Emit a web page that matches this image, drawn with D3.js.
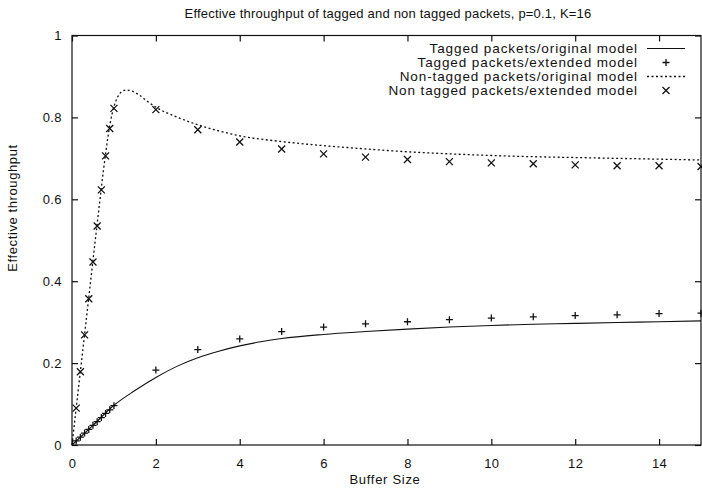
<!DOCTYPE html>
<html>
<head>
<meta charset="utf-8">
<script src="https://cdn.jsdelivr.net/npm/d3@7/dist/d3.min.js"></script>
<style>
  body { margin: 0; background: #fff; }
  svg { display: block; }
  text { font-family: "Liberation Sans", Arial, Helvetica, sans-serif; fill: #111; }
</style>
</head>
<body>
<svg id="chart" width="702" height="489"></svg>
<script>
// ---- Data ----
const titleText = "Effective throughput of tagged and non tagged packets, p=0.1, K=16";
const xLabel = "Buffer Size";
const yLabel = "Effective throughput";
const xTicks = [0, 2, 4, 6, 8, 10, 12, 14];
const yTicks = [0, 0.2, 0.4, 0.6, 0.8, 1];
const yTickLabels = ["0", "0.2", "0.4", "0.6", "0.8", "1"];
const legendLabels = [
  "Tagged packets/original model",
  "Tagged packets/extended model",
  "Non-tagged packets/original model",
  "Non tagged packets/extended model"
];

// Tagged packets / original model (solid line)
const taggedOrigX = [0, 0.5, 1, 1.5, 2, 2.5, 3, 3.5, 4, 4.5, 5, 6, 7, 8, 9, 10, 11, 12, 13, 14, 15];
const taggedOrigY = [0, 0.048, 0.097, 0.133, 0.165, 0.192, 0.213, 0.229, 0.242, 0.252, 0.26, 0.27, 0.277, 0.283, 0.288, 0.292, 0.295, 0.297, 0.299, 0.301, 0.303];

// Tagged packets / extended model (+ markers)
const taggedExtX = [0.1, 0.2, 0.3, 0.4, 0.5, 0.6, 0.7, 0.8, 0.9, 1, 2, 3, 4, 5, 6, 7, 8, 9, 10, 11, 12, 13, 14, 15];
const taggedExtY = [0.01, 0.019, 0.029, 0.038, 0.048, 0.057, 0.067, 0.077, 0.086, 0.096, 0.183, 0.233, 0.259, 0.277, 0.288, 0.296, 0.301, 0.306, 0.310, 0.313, 0.316, 0.318, 0.321, 0.322];

// Non-tagged packets / original model (dotted line)
const nonTagOrigX = [0, 0.2, 0.4, 0.6, 0.8, 0.9, 1.0, 1.1, 1.2, 1.3, 1.4, 1.6, 1.8, 2, 2.5, 3, 3.5, 4, 5, 6, 7, 8, 9, 10, 11, 12, 13, 14, 15];
const nonTagOrigY = [0, 0.18, 0.36, 0.54, 0.71, 0.78, 0.826, 0.852, 0.864, 0.867, 0.865, 0.855, 0.839, 0.825, 0.801, 0.782, 0.767, 0.755, 0.741, 0.731, 0.723, 0.716, 0.711, 0.707, 0.704, 0.702, 0.700, 0.698, 0.696];

// Non tagged packets / extended model (x markers)
const nonTagExtX = [0.1, 0.2, 0.3, 0.4, 0.5, 0.6, 0.7, 0.8, 0.9, 1, 2, 3, 4, 5, 6, 7, 8, 9, 10, 11, 12, 13, 14, 15];
const nonTagExtY = [0.09, 0.179, 0.269, 0.357, 0.447, 0.535, 0.623, 0.706, 0.773, 0.822, 0.819, 0.770, 0.740, 0.723, 0.711, 0.703, 0.697, 0.692, 0.689, 0.687, 0.684, 0.682, 0.682, 0.680];

// ---- Layout ----
const svg = d3.select("#chart");
const L = 72, R = 701, T = 35.5, B = 445;
const x = d3.scaleLinear().domain([0, 15]).range([L, R]);
const y = d3.scaleLinear().domain([0, 1]).range([B, T]);
const ink = "#111";
const fontSize = 13;

// Frame
svg.append("rect").attr("x", L).attr("y", T).attr("width", R - L).attr("height", B - T)
  .attr("fill", "none").attr("stroke", ink).attr("stroke-width", 1.2);

// Axes with inward ticks (mirrored)
const tickLen = 6;
const xAxisB = d3.axisBottom(x).tickValues(xTicks).tickSizeInner(-tickLen).tickSizeOuter(0).tickPadding(tickLen + 8).tickFormat(d3.format("d"));
const xAxisT = d3.axisTop(x).tickValues(xTicks).tickSizeInner(-tickLen).tickSizeOuter(0).tickFormat("");
const yAxisL = d3.axisLeft(y).tickValues(yTicks).tickSizeInner(-tickLen).tickSizeOuter(0).tickPadding(tickLen + 4).tickFormat((d, i) => yTickLabels[i]);
const yAxisR = d3.axisRight(y).tickValues(yTicks).tickSizeInner(-tickLen).tickSizeOuter(0).tickFormat("");

function style(g) {
  g.select(".domain").remove();
  g.selectAll("line").attr("stroke", ink).attr("stroke-width", 1.2);
  g.selectAll("text").attr("font-size", fontSize).attr("fill", ink)
    .attr("letter-spacing", 0.4)
    .style("font-family", '"Liberation Sans", Arial, sans-serif');
}
svg.append("g").attr("transform", `translate(0,${B})`).call(xAxisB).call(style);
svg.append("g").attr("transform", `translate(0,${T})`).call(xAxisT).call(style);
svg.append("g").attr("transform", `translate(${L},0)`).call(yAxisL).call(style);
svg.append("g").attr("transform", `translate(${R},0)`).call(yAxisR).call(style);

// Title and labels
svg.append("text").attr("x", 388).attr("y", 18).attr("text-anchor", "middle")
  .attr("font-size", 13).attr("letter-spacing", 0.2).text(titleText);
svg.append("text").attr("x", 385).attr("y", 484).attr("text-anchor", "middle")
  .attr("font-size", 13).attr("letter-spacing", 0.7).text(xLabel);
svg.append("text").attr("transform", "translate(17,208) rotate(-90)").attr("text-anchor", "middle")
  .attr("font-size", 13).attr("letter-spacing", 0.6).text(yLabel);

// Lines
const line = d3.line().x(d => x(d[0])).y(d => y(d[1])).curve(d3.curveMonotoneX);
const taggedOrig = taggedOrigX.map((v, i) => [v, taggedOrigY[i]]);
const nonTagOrig = nonTagOrigX.map((v, i) => [v, nonTagOrigY[i]]);
svg.append("path").datum(taggedOrig).attr("d", line)
  .attr("fill", "none").attr("stroke", ink).attr("stroke-width", 1.1);
svg.append("path").datum(nonTagOrig).attr("d", line)
  .attr("fill", "none").attr("stroke", ink).attr("stroke-width", 1.3).attr("stroke-dasharray", "2,2.5");

// Markers
const ms = 3.5;
function plus(g, cx, cy) {
  g.append("path").attr("d", `M${cx - ms},${cy}H${cx + ms}M${cx},${cy - ms}V${cy + ms}`)
    .attr("stroke", ink).attr("stroke-width", 1.3).attr("fill", "none");
}
function cross(g, cx, cy) {
  g.append("path").attr("d", `M${cx - ms},${cy - ms}L${cx + ms},${cy + ms}M${cx - ms},${cy + ms}L${cx + ms},${cy - ms}`)
    .attr("stroke", ink).attr("stroke-width", 1.3).attr("fill", "none");
}
const gm = svg.append("g");
taggedExtX.forEach((v, i) => plus(gm, x(v), y(taggedExtY[i])));
nonTagExtX.forEach((v, i) => cross(gm, x(v), y(nonTagExtY[i])));

// Legend
const lg = svg.append("g");
const rowY = [48.5, 62.5, 76.5, 90.5];
const textRight = 638, sampleL = 647, sampleR = 685;
legendLabels.forEach((lab, i) => {
  lg.append("text").attr("x", textRight).attr("y", rowY[i] + 4.7).attr("text-anchor", "end")
    .attr("font-size", 13.5).attr("letter-spacing", 0.9).text(lab);
});
lg.append("line").attr("x1", sampleL).attr("x2", sampleR).attr("y1", rowY[0]).attr("y2", rowY[0])
  .attr("stroke", ink).attr("stroke-width", 1.1);
plus(lg, (sampleL + sampleR) / 2, rowY[1]);
lg.append("line").attr("x1", sampleL).attr("x2", sampleR).attr("y1", rowY[2]).attr("y2", rowY[2])
  .attr("stroke", ink).attr("stroke-width", 1.3).attr("stroke-dasharray", "2,2.5");
cross(lg, (sampleL + sampleR) / 2, rowY[3]);
</script>
</body>
</html>
